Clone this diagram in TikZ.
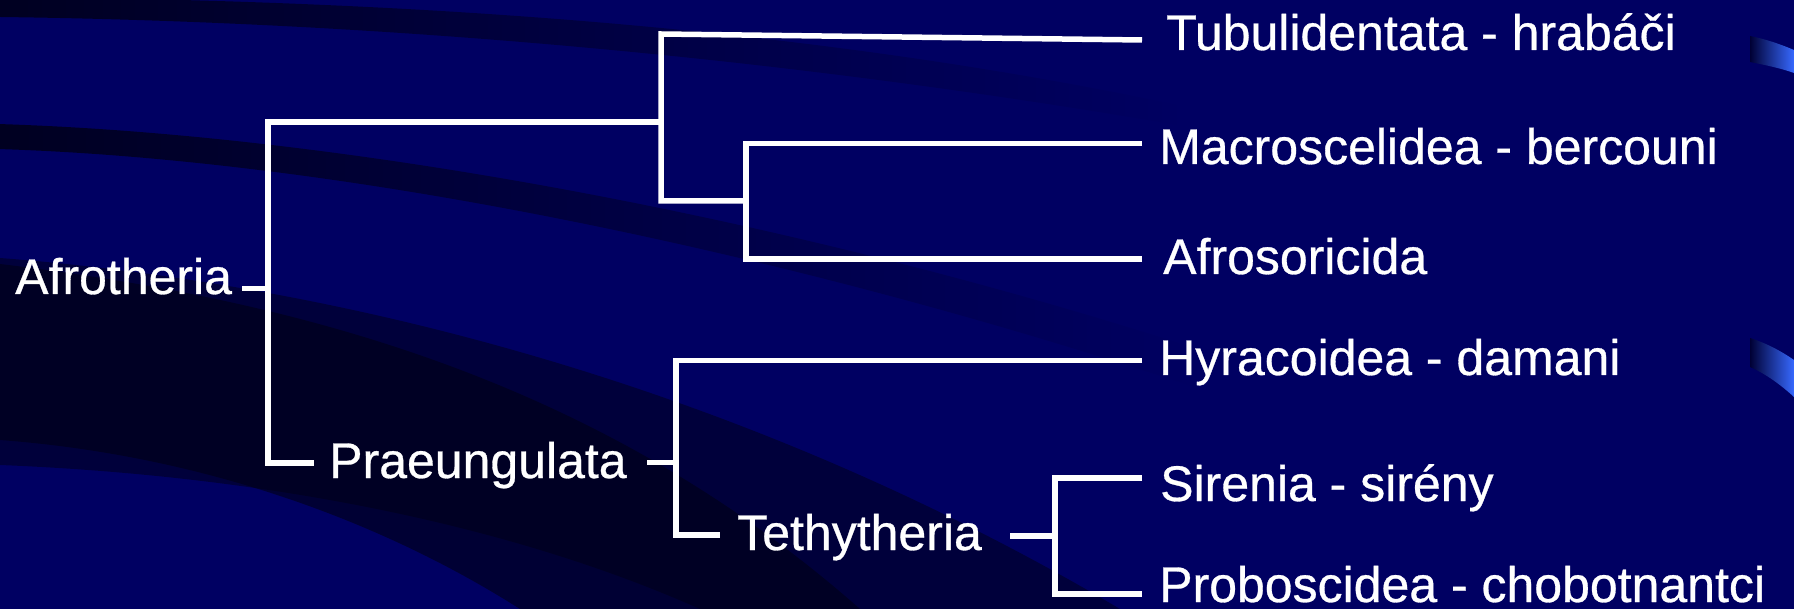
\documentclass[tikz,border=0pt]{standalone}
\usepackage{fontspec}
\setmainfont{Liberation Sans}
\newfontfamily\lblfont[FakeBold=0.6]{Liberation Sans}
\usetikzlibrary{fadings}
\definecolor{bgnavy}{RGB}{0,0,98}
\definecolor{darkband}{RGB}{0,0,22}
\definecolor{streak}{RGB}{55,105,255}
\tikzfading[name=fadeR, left color=transparent!0, middle color=transparent!15, right color=transparent!100]
\tikzset{
  branch/.style={white, line width=5.5pt, line join=miter},
  lbl/.style={text=white, font=\lblfont\fontsize{50}{60}\selectfont, inner sep=0pt, anchor=base west},
  bandfill/.style={fill=darkband, draw=none}
}
\begin{document}
\begin{tikzpicture}[x=1pt, y=-1pt]
\useasboundingbox (0,0) rectangle (1794,609);
% background
\fill[bgnavy] (0,0) rectangle (1794,609);
\begin{scope}
\clip (0,0) rectangle (1794,609);
% band 1
\fill[bandfill, path fading=fadeR, fill opacity=0.85] (0,-3) .. controls (400,0) and (800,25) .. (1180,105) -- (1180,125) .. controls (800,60) and (400,22) .. (0,17) -- cycle;
% band 2
\fill[bandfill, path fading=fadeR, fill opacity=0.85] (0,124) .. controls (350,135) and (800,220) .. (1200,349) -- (1200,388) .. controls (800,255) and (350,160) .. (0,149) -- cycle;
% band 3 (lower-left dark region)
\fill[bandfill, fill opacity=0.5] (0,258) .. controls (350,285) and (750,390) .. (1120,609) -- (700,609) .. controls (500,520) and (250,475) .. (0,465) -- cycle;
\fill[bandfill, fill opacity=0.6] (0,264) .. controls (300,300) and (600,380) .. (860,609) -- (520,609) .. controls (380,520) and (200,455) .. (0,440) -- cycle;
% right streaks
\shade[left color=darkband!60!bgnavy, middle color=streak, right color=streak] (1750,36) .. controls (1765,39) and (1780,44) .. (1794,50) -- (1794,73) .. controls (1780,68) and (1765,65) .. (1750,62) -- cycle;
\shade[left color=darkband!60!bgnavy, middle color=streak, right color=streak] (1750,338) .. controls (1766,343) and (1781,351) .. (1794,360) -- (1794,397) .. controls (1781,385) and (1766,374) .. (1750,367) -- cycle;
\end{scope}

% labels
\node[lbl] (afro) at (15,294) {Afrotheria};
\node[lbl] (prae) at (329,478) {Praeungulata};
\node[lbl] (teth) at (737,550) {Tethytheria};
\node[lbl] (tub) at (1166,50) {Tubulidentata - hrabáči};
\node[lbl] (mac) at (1159,164) {Macroscelidea - bercouni};
\node[lbl] (afs) at (1163,274) {Afrosoricida};
\node[lbl] (hyr) at (1159,375) {Hyracoidea - damani};
\node[lbl] (sir) at (1160,501) {Sirenia - sirény};
\node[lbl] (pro) at (1159,602) {Proboscidea - chobotnantci};

% tree coordinates
\coordinate (rTop) at (268,122);
\coordinate (rTick) at (268,288.5);
\coordinate (rBot) at (268,463);
\coordinate (uTop) at (661,34);
\coordinate (uMid) at (661,122);
\coordinate (uBot) at (661,201);
\coordinate (mTop) at (746,143.5);
\coordinate (mMid) at (746,201);
\coordinate (mBot) at (746,259);
\coordinate (pTop) at (676,360.5);
\coordinate (pTick) at (676,462.5);
\coordinate (pBot) at (676,535);
\coordinate (tTop) at (1055,478);
\coordinate (tTick) at (1055,536);
\coordinate (tBot) at (1055,594);
\coordinate (tubE) at (1142,40);
\coordinate (macE) at (1142,143.5);
\coordinate (afsE) at (1142,259);
\coordinate (hyrE) at (1142,360.5);
\coordinate (sirE) at (1142,478);
\coordinate (proE) at (1142,594);
\coordinate (afroT) at (242,288.5);
\coordinate (praeB) at (314,463);
\coordinate (praeT) at (647,462.5);
\coordinate (tethB) at (720,535);
\coordinate (tethT) at (1010,536);

% branches
\draw[branch] (afroT) -- (rTick);
\draw[branch] (uMid) -- (rTop) -- (rBot) -- (praeB);
\draw[branch] (tubE) -- (uTop) -- (uBot) -- (mMid);
\draw[branch] (macE) -- (mTop) -- (mBot) -- (afsE);
\draw[branch] (praeT) -- (pTick);
\draw[branch] (hyrE) -- (pTop) -- (pBot) -- (tethB);
\draw[branch] (tethT) -- (tTick);
\draw[branch] (sirE) -- (tTop) -- (tBot) -- (proE);
\end{tikzpicture}
\end{document}
